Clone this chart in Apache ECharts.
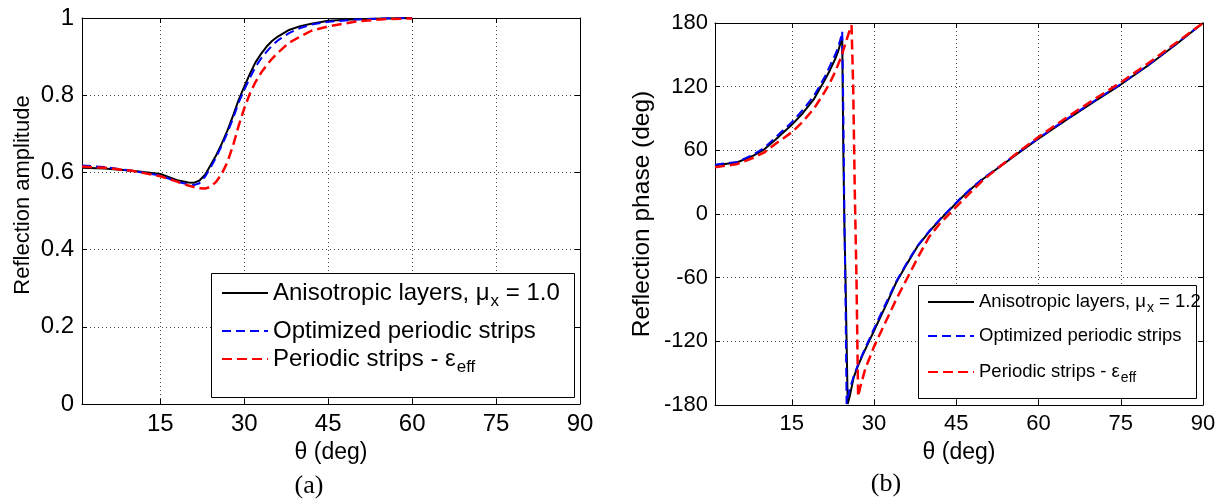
<!DOCTYPE html>
<html>
<head>
<meta charset="utf-8">
<script src="https://cdn.jsdelivr.net/npm/echarts@6/dist/echarts.min.js"></script>
<style>
  html, body { margin: 0; padding: 0; background: #fff; }
  #chart { width: 1227px; height: 501px; }
</style>
</head>
<body>
<div id="chart"></div>
<script>
// ---------- data: (a) reflection amplitude ----------
const thetaAmp = [1, 5, 10, 15, 18, 20, 21, 22, 23, 24, 25, 26, 27, 28, 29, 30, 31, 32, 33, 34, 35, 36, 38, 40, 42, 45, 50, 55, 60];
const ampBlack = [0.612, 0.610, 0.604, 0.596, 0.580, 0.574, 0.573, 0.579, 0.594, 0.619, 0.645, 0.675, 0.709, 0.747, 0.788, 0.822, 0.855, 0.885, 0.907, 0.926, 0.941, 0.952, 0.969, 0.979, 0.985, 0.993, 0.997, 0.999, 1.0];
const ampBlue  = [0.618, 0.614, 0.604, 0.592, 0.576, 0.569, 0.567, 0.572, 0.589, 0.613, 0.640, 0.670, 0.703, 0.740, 0.781, 0.814, 0.845, 0.873, 0.895, 0.913, 0.929, 0.942, 0.961, 0.974, 0.983, 0.990, 0.996, 0.999, 1.0];
const ampRed   = [0.615, 0.612, 0.604, 0.590, 0.576, 0.566, 0.562, 0.559, 0.558, 0.563, 0.576, 0.597, 0.627, 0.670, 0.721, 0.766, 0.804, 0.834, 0.858, 0.878, 0.895, 0.910, 0.936, 0.952, 0.967, 0.978, 0.991, 0.997, 0.999];

// ---------- data: (b) reflection phase ----------
const thetaPhBlack = [1, 5, 8, 10, 12, 15, 17, 19, 20, 21, 22, 23, 23.5, 24, 24.2, 24.4, 24.6, 24.8, 25.2, 25.6, 26.3, 27, 28, 30, 32, 34, 36, 38, 40, 42, 44, 46, 48, 50, 54, 57, 60, 65, 70, 75, 80, 85, 90];
const phaseBlack   = [46, 48.5, 55, 61, 70, 84, 95, 108, 117, 126, 136, 147, 154, 163, 166, 60, -10, -60, -179, -171, -154, -144, -132, -110, -88, -65, -47, -30, -17, -5.5, 5, 15.5, 25, 33.5, 48.5, 60, 71, 88.5, 105.5, 122, 140, 159.5, 180];
const thetaPhBlue  = [1, 5, 8, 10, 12, 15, 17, 19, 20, 21, 22, 23, 23.5, 24, 24.2, 24.4, 24.6, 24.8, 25.0, 25.5, 26.3, 27, 28, 30, 32, 34, 36, 38, 40, 42, 44, 46, 48, 50, 54, 57, 60, 65, 70, 75, 80, 85, 90];
const phaseBlue    = [46.5, 49, 56, 62.5, 72, 86.5, 98, 111, 120, 129, 140, 151, 158, 167, 172, 100, -5, -80, -179, -166, -153, -143, -131, -108, -86, -64, -46, -29.5, -16.5, -5, 5.5, 16, 25.5, 34, 49, 60.5, 71.5, 89, 106, 122.5, 140.5, 160, 180];
const thetaPhRed   = [1, 5, 8, 10, 12, 15, 17, 19, 20, 21, 22, 23, 24, 25, 25.5, 25.9, 26.2, 26.5, 26.8, 27.1, 27.5, 28.4, 30, 32, 34, 36, 38, 40, 42, 44, 46, 48, 50, 54, 57, 60, 65, 70, 75, 80, 85, 90];
const phaseRed     = [44, 47, 53, 58, 66, 77, 87, 99, 107, 115, 124, 135, 148, 164, 172, 178, 120, 20, -60, -172, -163, -146, -125, -103, -81, -61, -41, -22, -9, 1.5, 12, 22.5, 32.5, 49, 61, 72.5, 90.5, 107.5, 124, 142, 161, 180];

// ---------- tick labels ----------
const xTicks = [15, 30, 45, 60, 75, 90];

// ---------- legend texts ----------
const legendTextA = {
  'a-black': 'Anisotropic layers, μ{s|x}{n| = 1.0}',
  'a-blue': 'Optimized periodic strips',
  'a-red': 'Periodic strips - ε{s|eff}'
};
const legendTextB = {
  'b-black': 'Anisotropic layers, μ{s|x}{n| = 1.2}',
  'b-blue': 'Optimized periodic strips',
  'b-red': 'Periodic strips - ε{s|eff}'
};

const zip = (xs, ys) => xs.map((x, i) => [x, ys[i]]);

const SANS = "'Liberation Sans', Arial, Helvetica, sans-serif";
const SERIF = "'Liberation Serif', 'Times New Roman', serif";

const dotted = { type: [1, 3], color: '#444', width: 1 };
const black = { color: '#000', width: 1 };

function mainX(grid, labelSize, nameGap) {
  return {
    gridIndex: grid, type: 'value', min: 1, max: 90, position: 'bottom',
    axisLine: { show: true, onZero: false, lineStyle: black },
    axisTick: { show: true, inside: true, length: 5, customValues: xTicks, lineStyle: black },
    axisLabel: { customValues: xTicks, fontSize: labelSize, fontFamily: SANS, color: '#000', margin: 8 },
    splitLine: { show: true, lineStyle: dotted },
    name: 'θ (deg)', nameLocation: 'middle', nameGap: nameGap,
    nameTextStyle: { fontSize: 23, fontFamily: SANS, color: '#000' }
  };
}
function topX(grid) {
  return {
    gridIndex: grid, type: 'value', min: 1, max: 90, position: 'top',
    axisLine: { show: true, onZero: false, lineStyle: black },
    axisTick: { show: true, inside: true, length: 5, customValues: xTicks, lineStyle: black },
    axisLabel: { show: false }, splitLine: { show: false }
  };
}
function sideY(grid, min, max, interval) {
  return {
    gridIndex: grid, type: 'value', min: min, max: max, interval: interval, position: 'right',
    axisLine: { show: true, onZero: false, lineStyle: black },
    axisTick: { show: true, inside: true, length: 5, lineStyle: black },
    axisLabel: { show: false }, splitLine: { show: false }
  };
}

function lineSeries(name, xi, data, color, width, dash) {
  return {
    type: 'line', name: name, xAxisIndex: xi, yAxisIndex: xi, data: data,
    symbol: 'none', showSymbol: false, smooth: false, animation: false,
    lineStyle: { color: color, width: width, type: dash || 'solid' },
    itemStyle: { color: color }
  };
}

function legendRow(name, left, centerY, fmtMap, fontSize, subSize, subPad) {
  return {
    data: [name], left: left, top: centerY - 20, padding: 0, z: 10,
    itemWidth: 46, itemHeight: 40, selectedMode: false,
    itemStyle: { opacity: 0 },
    formatter: n => fmtMap[n],
    textStyle: {
      fontSize: fontSize, fontFamily: SANS, color: '#000',
      rich: {
        s: { fontSize: subSize, fontFamily: SANS, color: '#000', padding: [subPad, 0, 0, 1] },
        n: { fontSize: fontSize, fontFamily: SANS, color: '#000' }
      }
    }
  };
}

const option = {
  animation: false,
  backgroundColor: '#fff',
  grid: [
    { left: 82, top: 18, width: 498, height: 386, show: false },
    { left: 715, top: 23, width: 488, height: 382, show: false }
  ],
  xAxis: [mainX(0, 24, 33), topX(0), mainX(1, 22, 36), topX(1)],
  yAxis: [
    {
      gridIndex: 0, type: 'value', min: 0, max: 1, interval: 0.2, position: 'left',
      axisLine: { show: true, onZero: false, lineStyle: black },
      axisTick: { show: true, inside: true, length: 5, lineStyle: black },
      axisLabel: { fontSize: 24, fontFamily: SANS, color: '#000', margin: 8 },
      splitLine: { show: true, lineStyle: dotted },
      name: 'Reflection amplitude', nameLocation: 'middle', nameGap: 48,
      nameTextStyle: { fontSize: 22, fontFamily: SANS, color: '#000', padding: [0, 0, 0, 32] }
    },
    sideY(0, 0, 1, 0.2),
    {
      gridIndex: 1, type: 'value', min: -180, max: 180, interval: 60, position: 'left',
      axisLine: { show: true, onZero: false, lineStyle: black },
      axisTick: { show: true, inside: true, length: 5, lineStyle: black },
      axisLabel: { fontSize: 22, fontFamily: SANS, color: '#000', margin: 7 },
      splitLine: { show: true, lineStyle: dotted },
      name: 'Reflection phase (deg)', nameLocation: 'middle', nameGap: 60,
      nameTextStyle: { fontSize: 24.5, fontFamily: SANS, color: '#000' }
    },
    sideY(1, -180, 180, 60)
  ],
  series: [
    lineSeries('a-black', 0, zip(thetaAmp, ampBlack), '#000000', 2),
    lineSeries('a-blue', 0, zip(thetaAmp, ampBlue), '#0000ff', 2, [9, 5]),
    lineSeries('a-red', 0, zip(thetaAmp, ampRed), '#ff0000', 2.5, [10, 5]),
    lineSeries('b-black', 2, zip(thetaPhBlack, phaseBlack), '#000000', 2),
    lineSeries('b-blue', 2, zip(thetaPhBlue, phaseBlue), '#0000ff', 2, [9, 5]),
    lineSeries('b-red', 2, zip(thetaPhRed, phaseRed), '#ff0000', 2.5, [10, 5])
  ],
  legend: [
    legendRow('a-black', 221, 297, legendTextA, 24, 17, 16),
    legendRow('a-blue', 221, 335, legendTextA, 24, 17, 16),
    legendRow('a-red', 221, 363, legendTextA, 24, 17, 16),
    legendRow('b-black', 927, 306, legendTextB, 18.5, 14, 12),
    legendRow('b-blue', 927, 340, legendTextB, 18.5, 14, 12),
    legendRow('b-red', 927, 376, legendTextB, 18.5, 14, 12)
  ],
  graphic: [
    { type: 'rect', z: 3, shape: { x: 211.5, y: 273.5, width: 363, height: 124 },
      style: { fill: '#fff', stroke: '#000', lineWidth: 1 } },
    { type: 'rect', z: 3, shape: { x: 918.5, y: 285.5, width: 278, height: 113 },
      style: { fill: '#fff', stroke: '#000', lineWidth: 1 } },
    { type: 'text', z: 3, x: 309, y: 486,
      style: { text: '(a)', fontSize: 26, fontFamily: SERIF, fill: '#000', align: 'center', verticalAlign: 'middle' } },
    { type: 'text', z: 3, x: 886, y: 484,
      style: { text: '(b)', fontSize: 26, fontFamily: SERIF, fill: '#000', align: 'center', verticalAlign: 'middle' } }
  ]
};

const chart = echarts.init(document.getElementById('chart'), null, { renderer: 'canvas' });
chart.setOption(option);
</script>
</body>
</html>
